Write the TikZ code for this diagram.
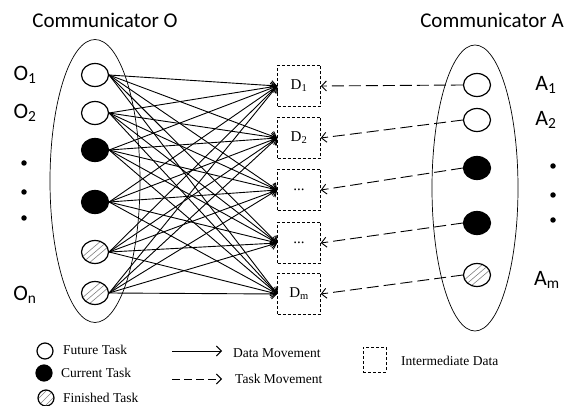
\documentclass[tikz,border=0pt]{standalone}
\usepackage{fontspec}
\setmainfont{Liberation Serif}
\newfontfamily\calib{Carlito}
\usetikzlibrary{arrows.meta,shapes.geometric}
\begin{document}
\begin{tikzpicture}[x=1pt,y=-1pt,
 task/.style={ellipse,draw,line width=1.2pt,minimum width=27pt,minimum height=23pt,inner sep=0pt},
 future/.style={task,fill=white},
 current/.style={task,fill=black},
 finished/.style={task,path picture={\foreach \s in {-7,0,7}{\draw[gray,line width=0.6pt]([xshift=\s pt]path picture bounding box.south west)--([xshift=\s pt]path picture bounding box.north east);}}},
 lfuture/.style={future,minimum width=16pt,minimum height=16pt},
 lcurrent/.style={current,minimum width=16pt,minimum height=16pt},
 lfinished/.style={finished,minimum width=16pt,minimum height=16pt},
 group/.style={ellipse,draw,line width=0.7pt,inner sep=0pt},
 databox/.style={draw,densely dashed,line width=0.6pt,minimum width=43pt,minimum height=41pt,inner sep=0pt,font=\fontsize{15}{17}\selectfont},
 dataarrow/.style={-{Straight Barb[length=5pt,width=10pt]},line width=0.9pt},
 taskarrow/.style={dataarrow,dash pattern=on 12pt off 5pt},
 ltaskarrow/.style={dataarrow,dash pattern=on 8pt off 4pt},
 big/.style={font=\calib\fontsize{21}{25}\selectfont},
 lab/.style={font=\calib\fontsize{22}{26}\selectfont},
 dotm/.style={circle,fill=black,inner sep=0pt,minimum size=5.5pt},
 legtext/.style={anchor=west,font=\fontsize{13.5}{15}\selectfont,inner sep=0pt},
]
\useasboundingbox (0,0) rectangle (568,406);

% titles
\node[big] (tO) at (105,20) {Communicator O};
\node[big] (tA) at (492,20) {Communicator A};

% group ellipses
\node[group,minimum width=90pt,minimum height=283pt] (gO) at (95,181) {};
\node[group,minimum width=86pt,minimum height=286pt] (gA) at (475,188) {};

% left tasks
\node[future]   (o1) at (95,75) {};
\node[future]   (o2) at (95,113) {};
\node[current]  (o3) at (95,150) {};
\node[current]  (o4) at (95,202) {};
\node[finished] (o5) at (95,252) {};
\node[finished] (o6) at (95,293) {};

% right tasks
\node[future]   (a1) at (477,85) {};
\node[future]   (a2) at (477,120) {};
\node[current]  (a3) at (477,168) {};
\node[current]  (a4) at (477,223) {};
\node[finished] (a5) at (477,275) {};

% labels left
\node[lab] (lo1) at (25,75) {O\textsubscript{1}};
\node[lab] (lo2) at (25,113) {O\textsubscript{2}};
\node[dotm] (ld1) at (24,163) {};
\node[dotm] (ld2) at (24,192) {};
\node[dotm] (ld3) at (24,218) {};
\node[lab] (lon) at (25,295) {O\textsubscript{n}};

% labels right
\node[lab] (la1) at (546,85) {A\textsubscript{1}};
\node[lab] (la2) at (546,120) {A\textsubscript{2}};
\node[dotm] (rd1) at (553,166) {};
\node[dotm] (rd2) at (553,195) {};
\node[dotm] (rd3) at (553,220) {};
\node[lab] (lam) at (547,280) {A\textsubscript{m}};

% data boxes
\node[databox] (d1) at (299,86) {D\textsubscript{1}};
\node[databox] (d2) at (299,138) {D\textsubscript{2}};
\node[databox] (d3) at (299,190) {...};
\node[databox] (d4) at (299,243) {...};
\node[databox] (d5) at (299,294) {D\textsubscript{m}};

% data movement
\foreach \o in {o1,o2,o3,o4,o5,o6}{
  \foreach \d in {d1,d2,d3,d4,d5}{
    \draw[dataarrow] (\o.east) -- (\d.west);
  }
}

% task movement
\draw[taskarrow] (a1.west) -- (d1.east);
\draw[taskarrow] (a2.west) -- (d2.east);
\draw[taskarrow] (a3.west) -- (d3.east);
\draw[taskarrow] (a4.west) -- (d4.east);
\draw[taskarrow] (a5.west) -- (d5.east);

% legend
\node[lfuture]   (k1) at (45,351) {};
\node[lcurrent]  (k2) at (44,373) {};
\node[lfinished] (k3) at (46,398) {};
\node[legtext] (kt1) at (63,350) {Future Task};
\node[legtext] (kt2) at (61,373) {Current Task};
\node[legtext] (kt3) at (63,398) {Finished Task};

\coordinate (m1s) at (172,351);
\coordinate (m1e) at (222,351);
\coordinate (m2s) at (172,379);
\coordinate (m2e) at (222,379);
\draw[dataarrow] (m1s) -- (m1e);
\draw[ltaskarrow] (m2s) -- (m2e);
\node[legtext] (kt4) at (233,353) {Data Movement};
\node[legtext] (kt5) at (235,379) {Task Movement};

\node[draw,densely dashed,line width=0.6pt,minimum width=23pt,minimum height=25pt,inner sep=0pt] (kb) at (374.5,359.5) {};
\node[legtext] (kt6) at (401,361) {Intermediate Data};
\end{tikzpicture}
\end{document}
